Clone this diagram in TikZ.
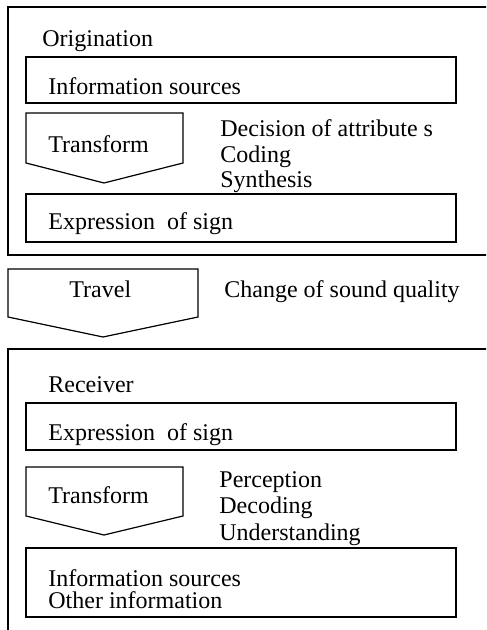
\documentclass[tikz,border=0pt]{standalone}
\usepackage{fontspec}
\setmainfont{Liberation Serif}
\usetikzlibrary{positioning,fit}
\tikzstyle{Frame}=[rectangle,draw=black,line width=1pt,inner sep=0pt]
\tikzstyle{Box}=[rectangle,draw=black,line width=1pt,inner sep=0pt]
\tikzstyle{Label}=[anchor=base west,inner sep=0pt,font=\fontsize{12}{14}\selectfont]
\tikzstyle{Arrow}=[draw=black,line width=0.6pt,line join=miter]

\begin{document}
\begin{tikzpicture}[x=0.5pt,y=-0.5pt]
	\useasboundingbox (0,0) rectangle (486,630);
	\clip (0,0) rectangle (486,630);

	% origination side
	\node [Frame,fit={(8,7) (520,255)}] (origin) {};
	\node [Label] (originT) at (42,47) {Origination};
	\node [Box,fit={(26,57) (456,103)}] (srcA) {};
	\node [Label] (srcAT) at (48,95) {Information sources};
	\draw [Arrow] (26,113) -- (183,113) -- (183,163) -- (104,183) -- (26,163) -- cycle;
	\node [Label] (tfA) at (48,153) {Transform};
	\foreach \txt [count=\k] in {Decision of attribute s,Coding,Synthesis}
	{
		\node [Label] (stepA\k) at (220,{137+25.5*(\k-1)}) {\txt};
	}
	\node [Box,fit={(26,194) (456,242)}] (signA) {};
	\node [Label] (signAT) at (48,230) {Expression~ of sign};

	% travel
	\draw [Arrow] (8,269) -- (198,269) -- (198,317) -- (103,337) -- (8,317) -- cycle;
	\node [Label] (travelT) at (69,297) {Travel};
	\node [Label] (changeT) at (224,297) {Change of sound quality};

	% receiver side
	\node [Frame,fit={(8,349) (520,660)}] (receiver) {};
	\node [Label] (receiverT) at (48,392) {Receiver};
	\node [Box,fit={(26,403) (456,450)}] (signB) {};
	\node [Label] (signBT) at (48,440) {Expression~ of sign};
	\draw [Arrow] (26,467) -- (183,467) -- (183,516) -- (104,535) -- (26,516) -- cycle;
	\node [Label] (tfB) at (48,503) {Transform};
	\foreach \txt [count=\k] in {Perception,Decoding,Understanding}
	{
		\node [Label] (stepB\k) at (219,{487+26.5*(\k-1)}) {\txt};
	}
	\node [Box,fit={(26,548) (456,617)}] (srcB) {};
	\node [Label,align=left,font=\fontsize{12}{10.8}\selectfont] (srcBT) at (48,608)
		{Information sources\\Other information};
\end{tikzpicture}
\end{document}
